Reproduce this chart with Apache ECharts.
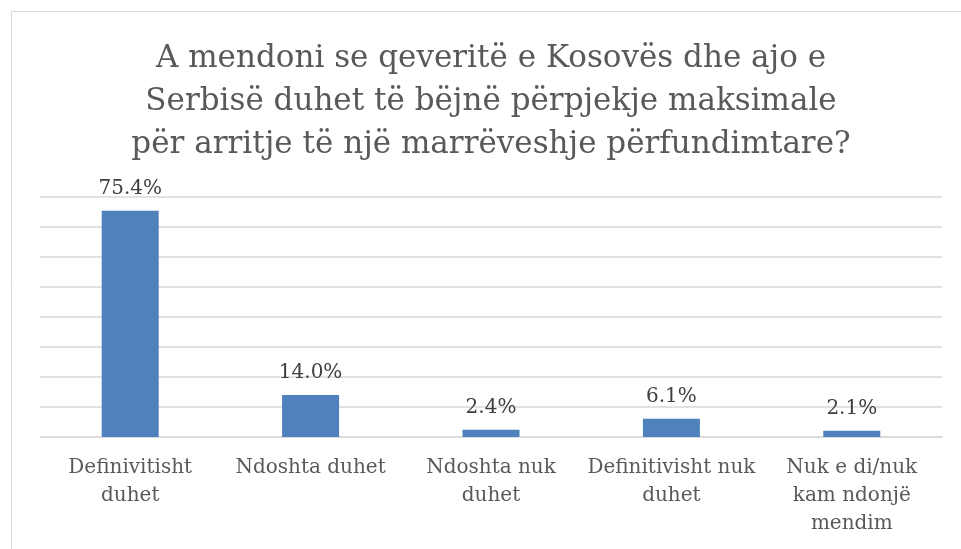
<!DOCTYPE html>
<html>
<head>
<meta charset="utf-8">
<script src="https://cdn.jsdelivr.net/npm/echarts@6/dist/echarts.min.js"></script>
<style>
  html, body { margin: 0; padding: 0; background: #fff; }
  #chart { width: 961px; height: 549px; }
</style>
</head>
<body>
<div id="chart"></div>
<script>
// values
const titleText = 'A mendoni se qeveritë e Kosovës dhe ajo e\nSerbisë duhet të bëjnë përpjekje maksimale\npër arritje të një marrëveshje përfundimtare?';
const categories = [
    'Definivitisht\nduhet',
    'Ndoshta duhet',
    'Ndoshta nuk\nduhet',
    'Definitivisht nuk\nduhet',
    'Nuk e di/nuk\nkam ndonjë\nmendim'
];
const shares = [75.4, 14.0, 2.4, 6.1, 2.1];

const fontFamily = '"DejaVu Serif", serif';

let chartDom = document.getElementById('chart');
let myChart = echarts.init(chartDom);
let option;

option = {
    backgroundColor: '#fff',
    animation: false,
    textStyle: { fontFamily: fontFamily },
    title: {
        text: titleText,
        // chart frame starts at x=11, so the title is centred on x~491
        left: 486,
        top: 32,
        textAlign: 'center',
        textStyle: {
            fontFamily: fontFamily,
            fontSize: 31,
            fontWeight: 'normal',
            color: '#595959',
            lineHeight: 43
        }
    },
    graphic: [
        {
            type: 'rect',
            shape: { x: 11.5, y: 11.5, width: 960, height: 560 },
            style: { fill: 'none', stroke: '#d9d9d9', lineWidth: 1 },
            silent: true
        }
    ],
    grid: {
        left: 40,
        right: 19,
        top: 197,
        bottom: 112,
        containLabel: false
    },
    xAxis: {
        type: 'category',
        data: categories,
        axisLine: { lineStyle: { color: '#d9d9d9', width: 1.5 } },
        axisTick: { show: false },
        axisLabel: {
            interval: 0,
            margin: 17,
            fontFamily: fontFamily,
            fontSize: 20,
            lineHeight: 28,
            color: '#595959'
        }
    },
    yAxis: {
        type: 'value',
        min: 0,
        max: 80,
        interval: 10,
        axisLabel: { show: false },
        axisLine: { show: false },
        axisTick: { show: false },
        splitLine: { lineStyle: { color: '#d9d9d9', width: 1.5 } }
    },
    series: [
        {
            type: 'bar',
            data: shares,
            barWidth: 57,
            itemStyle: { color: '#4f81bd' },
            label: {
                show: true,
                position: 'top',
                distance: 12,
                formatter: p => p.value.toFixed(1) + '%',
                fontFamily: fontFamily,
                fontSize: 20,
                color: '#404040'
            }
        }
    ]
};

option && myChart.setOption(option);
</script>
</body>
</html>
